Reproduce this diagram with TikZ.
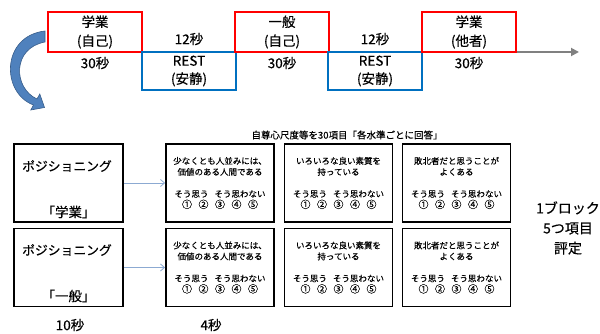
\documentclass[tikz,border=0pt]{standalone}
\usepackage{fontspec}
\setmainfont[FakeBold=0.35]{Noto Sans CJK JP}
\usetikzlibrary{arrows.meta}
\definecolor{pptred}{RGB}{255,0,0}
\definecolor{pptblue}{RGB}{0,112,192}
\definecolor{arrowblue}{RGB}{79,129,189}
\definecolor{arrowedge}{RGB}{56,93,138}
\definecolor{linkblue}{RGB}{140,170,210}
\definecolor{tlgray}{RGB}{128,128,128}
\newcommand{\scalerow}{\fontsize{8.5}{11}\selectfont そう思う\hspace{6pt}そう思わない\\{\fontsize{10}{11}\selectfont ①\hspace{6.5pt}②\hspace{6.5pt}③\hspace{6.5pt}④\hspace{6.5pt}⑤}}
\begin{document}
\begin{tikzpicture}[x=1pt,y=-1pt,
  redbox/.style={draw=pptred,line width=1.8pt,minimum width=94pt,minimum height=40pt,inner sep=0pt,align=center,font=\fontsize{13.5}{19}\selectfont},
  restbox/.style={draw=pptblue,line width=1.8pt,minimum width=94pt,minimum height=38pt,inner sep=0pt,align=center,font=\fontsize{13.5}{18}\selectfont},
  lbl/.style={inner sep=0pt,font=\fontsize{13.5}{16}\selectfont},
  poslbl/.style={inner sep=0pt,font=\fontsize{12.8}{16}\selectfont},
  posbox/.style={draw,line width=1.8pt,minimum width=109pt,minimum height=78pt,inner sep=0pt},
  itembox/.style={draw,line width=1.8pt,minimum width=108pt,minimum height=78pt,inner sep=0pt,align=center,font=\fontsize{8.5}{11}\selectfont},
  link/.style={draw=linkblue,line width=0.8pt,-{Straight Barb[length=4pt,width=7pt]}},
  tlarrow/.style={draw=tlgray,line width=1.8pt,-{Triangle[length=8pt,width=8pt]}}]
\useasboundingbox (0,0) rectangle (600,334);

% timeline
\node[redbox] (r1) at (95,32) {学業\\(自己)};
\node[restbox] (b1) at (189,71) {REST\\(安静)};
\node[redbox] (r2) at (282,32) {一般\\(自己)};
\node[restbox] (b2) at (375,71) {REST\\(安静)};
\node[redbox] (r3) at (469,32) {学業\\(他者)};
\coordinate (tlend) at (579,52);
\draw[tlarrow] (r3.east |- 0,52) -- (tlend);

\node[lbl] (s1) at (95,63) {30秒};
\node[lbl] (s2) at (282,63) {30秒};
\node[lbl] (s3) at (469,63) {30秒};
\node[lbl] (t1) at (189,39) {12秒};
\node[lbl] (t2) at (375,39) {12秒};

% curved arrow
\fill[arrowblue,draw=arrowedge,line width=0.6pt]
  (45,31) .. controls (1,36) and (1,93) .. (33.5,105)
  -- (30.8,110) -- (44.5,107.5) -- (39.8,94) -- (37,99)
  .. controls (13,88) and (12,48) .. (45,42) -- cycle;

% header
\node[inner sep=0pt,font=\fontsize{9.5}{11}\selectfont] (hdr) at (347,135) {自尊心尺度等を30項目「各水準ごとに回答」};

% positioning boxes
\node[posbox] (p1) at (68.5,183) {};
\node[poslbl] (p1a) at (67,166) {ポジショニング};
\node[lbl] (p1b) at (68.5,212) {「学業」};
\node[posbox] (p2) at (68.5,267.5) {};
\node[poslbl] (p2a) at (67,250) {ポジショニング};
\node[lbl] (p2b) at (68.5,296) {「一般」};

% item boxes
\foreach \r/\y in {1/183,2/267.5}{
  \node[itembox] (i\r a) at (220,\y) {少なくとも人並みには、\\価値のある人間である\\[11pt]\scalerow};
  \node[itembox] (i\r b) at (338.5,\y) {いろいろな良い素質を\\持っている\\[11pt]\scalerow};
  \node[itembox] (i\r c) at (456.5,\y) {敗北者だと思うことが\\よくある\\[11pt]\scalerow};
}
\draw[link] (p1.east) -- (i1a.west);
\draw[link] (p2.east) -- (i2a.west);

% side and bottom labels
\node[inner sep=0pt,align=center,font=\fontsize{14}{20}\selectfont] (blk) at (568,228) {1ブロック\\5つ項目\\評定};
\node[lbl] (d1) at (70,325) {10秒};
\node[lbl] (d2) at (211,325) {4秒};
\end{tikzpicture}
\end{document}
